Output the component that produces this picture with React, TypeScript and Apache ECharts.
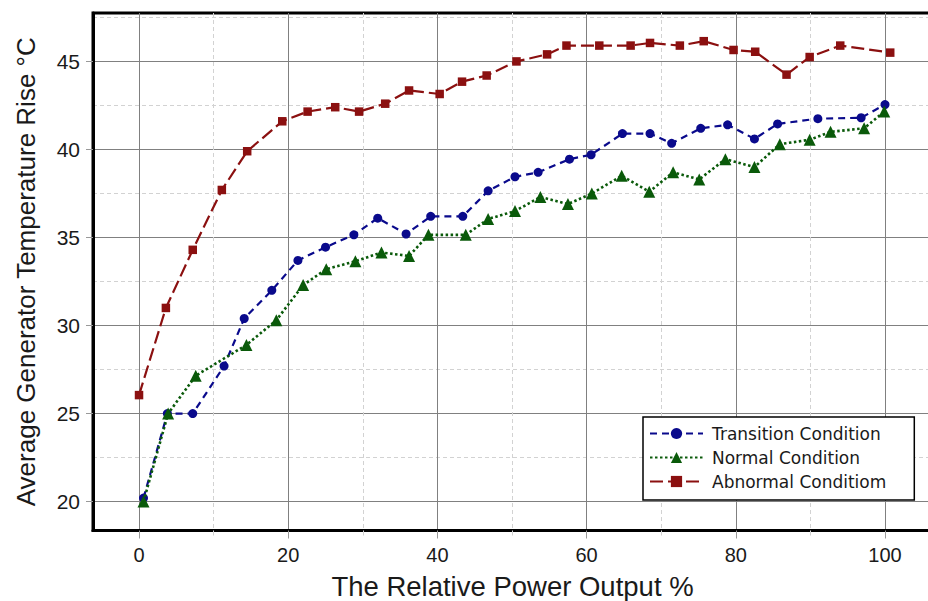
import React, { useEffect, useRef } from "react";
import * as echarts from "echarts";

const transitionX = [0.6, 3.8, 7.2, 11.4, 14.1, 17.8, 21.3, 25.0, 28.8, 32.0, 35.8, 39.1, 43.4, 46.8, 50.4, 53.5, 57.7, 60.6, 64.8, 68.5, 71.4, 75.3, 78.9, 82.5, 85.6, 91.0, 96.8, 100.0];
const transitionY = [20.2, 25.0, 25.0, 27.7, 30.4, 32.0, 33.7, 34.45, 35.15, 36.1, 35.2, 36.2, 36.2, 37.65, 38.45, 38.7, 39.45, 39.7, 40.9, 40.9, 40.35, 41.2, 41.4, 40.6, 41.45, 41.75, 41.8, 42.55];

const normalX = [0.6, 3.9, 7.6, 14.4, 18.4, 22.0, 25.1, 29.0, 32.5, 36.2, 38.8, 43.8, 46.8, 50.4, 53.8, 57.5, 60.7, 64.7, 68.4, 71.6, 75.1, 78.6, 82.5, 85.9, 89.9, 92.7, 97.2, 99.9];
const normalY = [20.0, 25.0, 27.15, 28.9, 30.3, 32.3, 33.2, 33.65, 34.15, 33.95, 35.15, 35.15, 36.05, 36.5, 37.3, 36.9, 37.5, 38.5, 37.6, 38.7, 38.3, 39.45, 39.0, 40.3, 40.55, 41.0, 41.2, 42.15];

const abnormalX = [0, 3.6, 7.2, 11.1, 14.5, 19.2, 22.6, 26.3, 29.5, 33.0, 36.2, 40.3, 43.3, 46.6, 50.6, 54.7, 57.3, 61.7, 65.9, 68.5, 72.5, 75.7, 79.7, 82.6, 86.8, 89.9, 94.0, 100.7];
const abnormalY = [26.05, 31.0, 34.3, 37.7, 39.9, 41.6, 42.15, 42.4, 42.15, 42.6, 43.35, 43.15, 43.85, 44.2, 45.0, 45.4, 45.9, 45.9, 45.9, 46.05, 45.9, 46.15, 45.65, 45.55, 44.25, 45.25, 45.9, 45.5];

const xMajorTicks = [0, 20, 40, 60, 80, 100];
const xMinorTicks = [10, 30, 50, 70, 90];
const yMajorTicks = [20, 25, 30, 35, 40, 45];
const yMinorTicks = [22.5, 27.5, 32.5, 37.5, 42.5, 47.5];

const seriesNames = ["Transition Condition", "Normal Condition", "Abnormal Conditiom"];
const xTitle = "The Relative Power Output %";
const yTitle = "Average Generator Temperature Rise °C";

const X_MIN = -6.17;
const X_MAX = 106.3;
const Y_MIN = 18.36;
const Y_MAX = 47.75;

const zip = (xs: number[], ys: number[]) => xs.map((x, i) => [x, ys[i]]);

export default function App() {
  const ref = useRef<HTMLDivElement>(null);
  useEffect(() => {
    if (!ref.current) return;
    const chart = echarts.init(ref.current, null, { renderer: "svg" });
    const font = "'Liberation Sans', Arial, sans-serif";
    const option: any = {
      animation: false,
      backgroundColor: "#ffffff",
      grid: {
        left: 93,
        right: -4,
        top: 13,
        bottom: 70.5,
        show: true,
        borderColor: "#000000",
        borderWidth: 3,
        backgroundColor: "transparent",
        containLabel: false,
        outerBoundsMode: "none",
      },
      legend: {
        data: seriesNames,
        orient: "vertical",
        left: 643,
        top: 417,
        itemWidth: 53,
        itemHeight: 14,
        itemGap: 7,
        padding: [8, 28, 10, 6],
        backgroundColor: "#ffffff",
        borderColor: "#000000",
        borderWidth: 1.5,
        borderRadius: 0,
        textStyle: {
          fontFamily: "'DejaVu Sans', sans-serif",
          fontSize: 17,
          color: "#1a1a1a",
          padding: [0, 0, 0, 4],
        },
      },
      xAxis: [
        {
          type: "value",
          min: X_MIN,
          max: X_MAX,
          position: "bottom",
          name: xTitle,
          nameLocation: "middle",
          nameGap: 42,
          nameTextStyle: { fontFamily: font, fontSize: 27.5, color: "#1a1a1a" },
          axisLine: { show: true, onZero: false, lineStyle: { color: "#000", width: 3 } },
          axisTick: { show: true, customValues: xMajorTicks, length: 8, lineStyle: { color: "#999", width: 1 } },
          axisLabel: { show: true, customValues: xMajorTicks, margin: 14, fontFamily: font, fontSize: 20, color: "#1a1a1a" },
          splitLine: { show: true, lineStyle: { color: "#808080", width: 1, type: "solid" } },
        },
        {
          type: "value",
          min: X_MIN,
          max: X_MAX,
          position: "bottom",
          axisLine: { show: false },
          axisTick: { show: true, customValues: xMinorTicks, length: 5, lineStyle: { color: "#cfcfcf", width: 1 } },
          axisLabel: { show: false },
          splitLine: { show: true, lineStyle: { color: "#d2d2d2", width: 1, type: [4, 3] } },
        },
      ],
      yAxis: [
        {
          type: "value",
          min: Y_MIN,
          max: Y_MAX,
          position: "left",
          name: yTitle,
          nameLocation: "middle",
          nameGap: 54,
          nameTextStyle: { fontFamily: font, fontSize: 26, color: "#1a1a1a" },
          axisLine: { show: true, onZero: false, lineStyle: { color: "#000", width: 3 } },
          axisTick: { show: true, customValues: yMajorTicks, length: 7, lineStyle: { color: "#999", width: 1 } },
          axisLabel: { show: true, customValues: yMajorTicks, margin: 13, fontFamily: font, fontSize: 21, color: "#1a1a1a" },
          splitLine: { show: true, lineStyle: { color: "#808080", width: 1, type: "solid" } },
        },
        {
          type: "value",
          min: Y_MIN,
          max: Y_MAX,
          position: "left",
          axisLine: { show: false },
          axisTick: { show: false, customValues: yMinorTicks },
          axisLabel: { show: false, customValues: yMinorTicks },
          splitLine: { show: true, lineStyle: { color: "#d2d2d2", width: 1, type: [4, 3] } },
        },
      ],
      series: [
        {
          name: seriesNames[0],
          type: "line",
          data: zip(transitionX, transitionY),
          symbol: "circle",
          symbolSize: 9,
          color: "#0a0a8c",
          lineStyle: { color: "#0a0a8c", width: 2.2, type: [7, 5] },
          itemStyle: { color: "#0a0a8c" },
          z: 3,
        },
        {
          name: seriesNames[1],
          type: "line",
          data: zip(normalX, normalY),
          symbol: "triangle",
          symbolSize: 12,
          color: "#0a5a0a",
          lineStyle: { color: "#0a5a0a", width: 2.6, type: [2.5, 2.5] },
          itemStyle: { color: "#0a5a0a" },
          z: 4,
        },
        {
          name: seriesNames[2],
          type: "line",
          data: zip(abnormalX, abnormalY),
          symbol: "rect",
          symbolSize: 8.5,
          color: "#8b1010",
          lineStyle: { color: "#8b1010", width: 2.2, type: [13, 5] },
          itemStyle: { color: "#8b1010" },
          z: 2,
        },
      ],
    };
    chart.setOption(option);
    return () => chart.dispose();
  }, []);
  return (
    <div
      ref={ref}
      style={{ position: "absolute", left: 0, top: 0, width: 928, height: 601 }}
    />
  );
}
